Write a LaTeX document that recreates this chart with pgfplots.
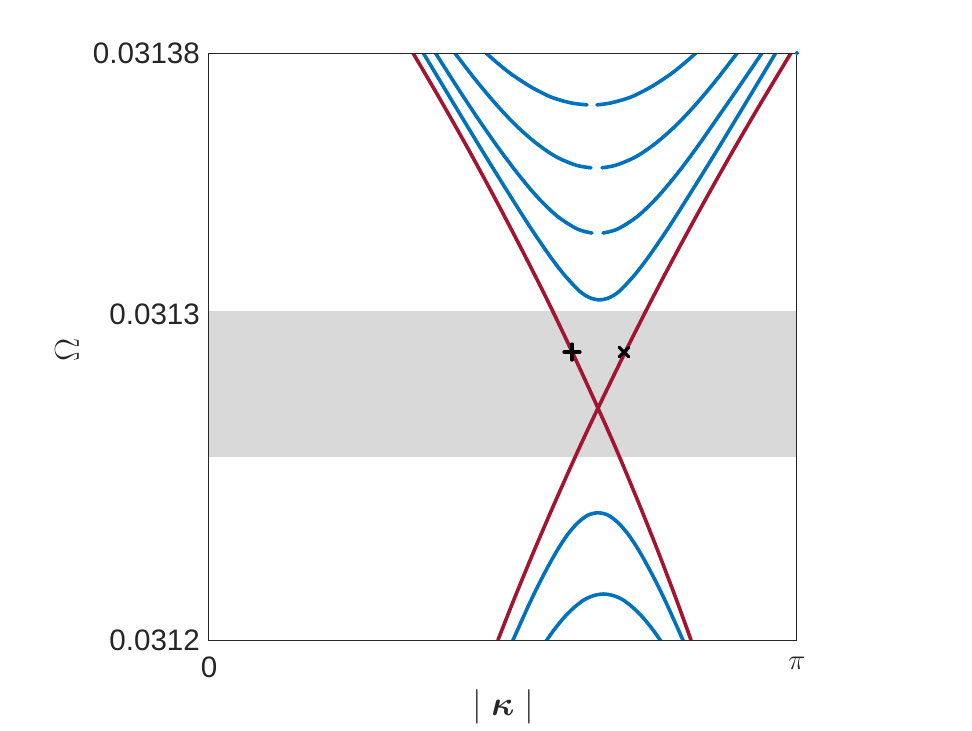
\documentclass[border=0pt]{standalone}
\usepackage{fontspec}
\setmainfont{Liberation Sans}
\usepackage{amsmath}
\usepackage{pgfplots}
\pgfplotsset{compat=1.18}
\definecolor{mred}{RGB}{162,20,47}
\definecolor{mblue}{RGB}{0,114,189}
\definecolor{bandgray}{RGB}{217,217,217}
\definecolor{axgray}{RGB}{38,38,38}
\begin{document}
\begin{tikzpicture}
\begin{axis}[
  scale only axis, width=294pt, height=293.5pt,
  xmin=0, xmax=3.14159, ymin=0.0312, ymax=0.03138,
  xtick={0,3.14159}, xticklabels={0,$\pi$},
  ytick={0.0312,0.0313,0.03138}, yticklabels={0.0312,0.0313,0.03138},
  scaled y ticks=false, scaled x ticks=false,
  major tick length=0pt,
  axis line style={draw=axgray, line width=0.5pt},
  tick label style={font=\fontsize{14.8}{17}\selectfont, text=axgray},
  xticklabel style={yshift=-5pt},
  yticklabel style={xshift=-1pt},
  xlabel={$|\;\boldsymbol{\kappa}\;|$}, ylabel={$\Omega$},
  label style={font=\fontsize{16}{19}\selectfont, text=axgray},
  xlabel style={at={(axis description cs:0.5,-0.114)}, anchor=center},
  ylabel style={at={(axis description cs:-0.2415,0.494)}, anchor=center, rotate=0},
  axis on top,
  every axis plot/.append style={line join=round, line cap=round},
]
% grey band
\addplot[draw=none, fill=bandgray] coordinates {(0,0.0312561) (3.14159,0.0312561) (3.14159,0.0313009) (0,0.0313009)} -- cycle;

% upper blue curve 1 (split at gap)
\addplot[mblue, line width=1.8pt, smooth] coordinates {(2.01958,0.0313641) (1.93409,0.0313647) (1.82724,0.0313665) (1.72038,0.0313696) (1.61353,0.0313736) (1.53338,0.0313773) (1.48049,0.03138)};
\addplot[mblue, line width=1.8pt, smooth] coordinates {(2.07301,0.0313641) (2.14781,0.0313647) (2.25466,0.0313665) (2.36152,0.0313696) (2.46837,0.0313736) (2.54852,0.0313773) (2.60141,0.03138)};
% upper blue curve 2
\addplot[mblue, line width=1.8pt, smooth] coordinates {(2.04095,0.0313448) (1.96081,0.0313456) (1.85395,0.0313482) (1.74710,0.0313524) (1.64024,0.0313578) (1.53338,0.0313643) (1.42653,0.0313716) (1.31326,0.03138)};
\addplot[mblue, line width=1.8pt, smooth] coordinates {(2.09972,0.0313448) (2.17452,0.0313456) (2.28138,0.0313482) (2.38823,0.0313524) (2.49509,0.0313578) (2.60194,0.0313643) (2.70880,0.0313716) (2.82207,0.03138)};
% upper blue curve 3
\addplot[mblue, line width=1.8pt, smooth] coordinates {(2.04629,0.0313248) (1.96882,0.0313260) (1.86196,0.0313299) (1.75511,0.0313358) (1.64825,0.0313431) (1.54140,0.0313513) (1.43454,0.0313601) (1.32769,0.0313694) (1.21014,0.03138)};
\addplot[mblue, line width=1.8pt, smooth] coordinates {(2.10506,0.0313248) (2.18253,0.0313260) (2.28939,0.0313299) (2.39625,0.0313358) (2.50310,0.0313431) (2.60996,0.0313513) (2.71681,0.0313601) (2.82901,0.0313694) (2.95457,0.03138)};
% upper blue curve 4
\addplot[mblue, line width=1.8pt, smooth] coordinates {(1.14496,0.03138) (1.28494,0.0313666) (1.44523,0.0313514) (1.57880,0.0313390) (1.71237,0.0313269) (1.81922,0.0313179) (1.89937,0.0313119) (1.97951,0.0313070) (2.03294,0.0313050) (2.08636,0.0313043) (2.13979,0.0313050) (2.19322,0.0313070) (2.27336,0.0313119) (2.35350,0.0313179) (2.46036,0.0313269) (2.59393,0.0313390) (2.72750,0.0313514) (2.88778,0.0313666) (3.02776,0.03138)};
% lower blue curve 5
\addplot[mblue, line width=1.8pt, smooth] coordinates {(1.62154,0.0311996) (1.70435,0.0312102) (1.75778,0.0312166) (1.81121,0.0312225) (1.86464,0.0312279) (1.91807,0.0312325) (1.97150,0.0312360) (2.02492,0.0312383) (2.07835,0.0312390) (2.13178,0.0312383) (2.18520,0.0312360) (2.23863,0.0312325) (2.29206,0.0312279) (2.34549,0.0312225) (2.39892,0.0312166) (2.45235,0.0312102) (2.53516,0.0311996)};
% lower blue curve 6
\addplot[mblue, line width=1.8pt, smooth] coordinates {(1.80052,0.0311996) (1.84060,0.0312029) (1.89402,0.0312067) (1.94745,0.0312098) (2.00088,0.0312122) (2.05431,0.0312136) (2.10774,0.0312141) (2.16116,0.0312136) (2.21459,0.0312122) (2.26802,0.0312098) (2.32145,0.0312067) (2.37487,0.0312029) (2.41495,0.0311996)};
% stray point top right
\addplot[mblue, only marks, mark=*, mark size=0.9pt] coordinates {(3.14159,0.03138)};

% red lines
\addplot[mred, line width=1.8pt, smooth] coordinates {(1.08993,0.03138) (1.23686,0.0313656) (1.38753,0.0313503) (1.53285,0.0313349) (1.67230,0.0313196) (1.80694,0.0313043) (1.93570,0.0312889) (2.07835,0.0312711) (2.17719,0.0312583) (2.28939,0.0312429) (2.39625,0.0312276) (2.49776,0.0312123) (2.57523,0.0312)};
\addplot[mred, line width=1.8pt, smooth] coordinates {(3.10951,0.03138) (2.95831,0.0313656) (2.80230,0.0313503) (2.65110,0.0313349) (2.50524,0.0313196) (2.36472,0.0313043) (2.22902,0.0312889) (2.07835,0.0312711) (1.97363,0.0312583) (1.85342,0.0312429) (1.73855,0.0312276) (1.62849,0.0312123) (1.54407,0.0312)};

% markers
\addplot[black, only marks, mark=+, mark size=4pt, line width=1.6pt] coordinates {(1.93944,0.0312883)};
\addplot[black, only marks, mark=x, mark size=3.3pt, line width=1.6pt] coordinates {(2.21726,0.0312883)};
\end{axis}
\path (current axis.south west) ++(-104.5pt,-44.5pt) coordinate (bbl);
\path (current axis.north east) ++(87.5pt,26.5pt) coordinate (btr);
\path (bbl) rectangle (btr);
\end{tikzpicture}
\end{document}
